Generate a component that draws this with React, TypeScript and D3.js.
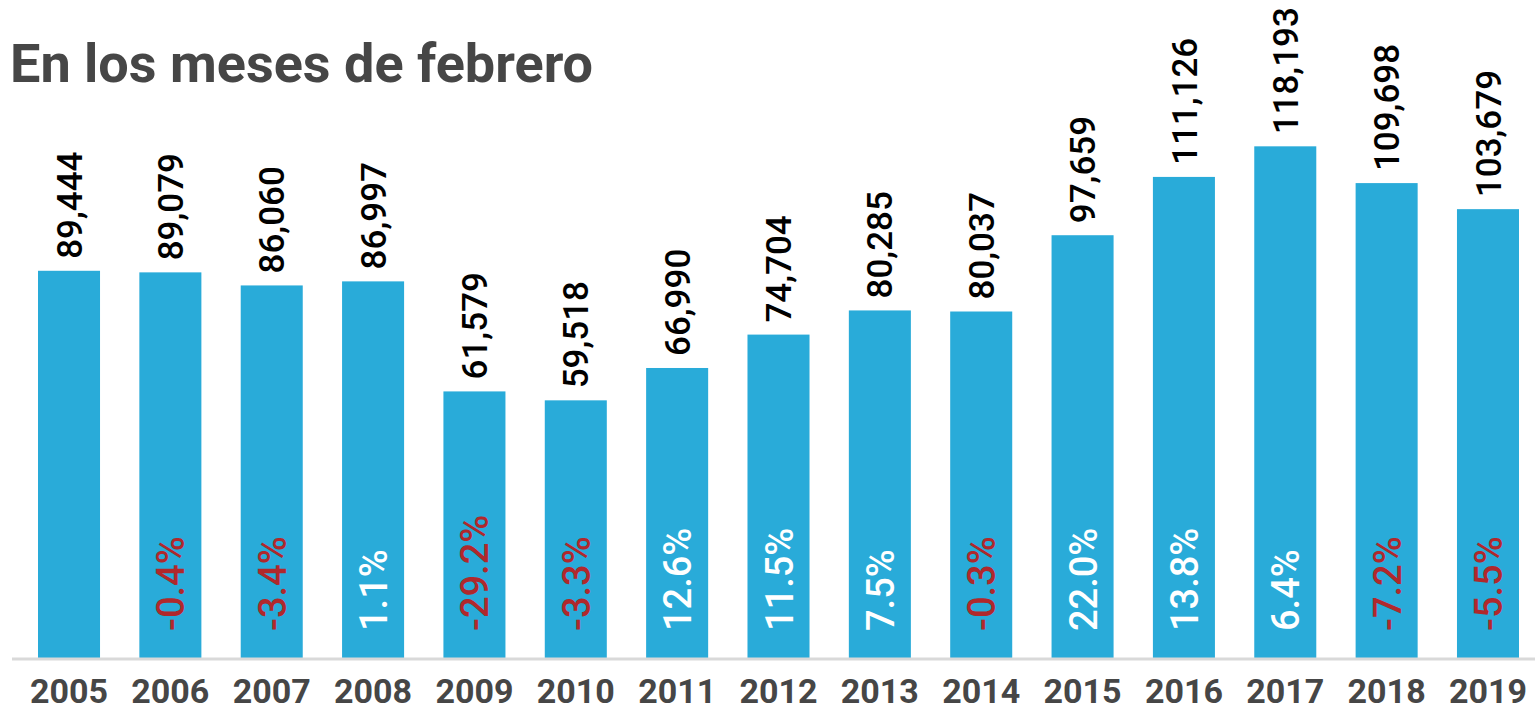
import React from "react";
import * as d3 from "d3";

const years = ["2005","2006","2007","2008","2009","2010","2011","2012","2013","2014","2015","2016","2017","2018","2019"];
const values = [89444, 89079, 86060, 86997, 61579, 59518, 66990, 74704, 80285, 80037, 97659, 111126, 118193, 109698, 103679];
const changes: (number | null)[] = [null, -0.4, -3.4, 1.1, -29.2, -3.3, 12.6, 11.5, 7.5, -0.3, 22.0, 13.8, 6.4, -7.2, -5.5];
const title = "En los meses de febrero";

const W = 1535, H = 707;
const baseY = 658;

export default function App() {
  const x = d3.scaleBand<string>().domain(years).range([38, 1519]).paddingInner(0.388).paddingOuter(0);
  const y = d3.scaleLinear().domain([0, 120000]).range([baseY, baseY - 519.5]);
  const fmt = d3.format(",");
  const pct = (v: number) => d3.format(".1f")(v).replace("\u2212", "-") + "%";
  const font = "Roboto, 'Noto Sans', sans-serif";
  return (
    <svg width={W} height={H} style={{ position: "absolute", left: 0, top: 0, background: "#fff" }} fontFamily={font}>
      <text x={10} y={82} fontSize={54} fontWeight={700} fill="#464646">{title}</text>
      {years.map((yr, i) => {
        const bx = x(yr)!;
        const bw = x.bandwidth();
        const cx = bx + bw / 2;
        const top = y(values[i]);
        const ch = changes[i];
        return (
          <g key={yr}>
            <rect x={bx} y={top} width={bw} height={baseY - top} fill="#29ABD9" />
            <text transform={`translate(${cx},${top - 12}) rotate(-90)`} dy="0.36em" fontSize={35} fontWeight={500} fill="#000">{fmt(values[i])}</text>
            {ch !== null && (
              <text transform={`translate(${cx},${baseY - 27}) rotate(-90)`} dy="0.37em" fontSize={38} fontWeight={500} fill={ch < 0 ? "#B0282C" : "#ffffff"}>{pct(ch)}</text>
            )}
            <text x={cx} y={703} textAnchor="middle" fontSize={34} fontWeight={700} fill="#464646">{yr}</text>
          </g>
        );
      })}
      <line x1={12} x2={W} y1={baseY + 1} y2={baseY + 1} stroke="#d9d9d9" strokeWidth={3} />
    </svg>
  );
}
